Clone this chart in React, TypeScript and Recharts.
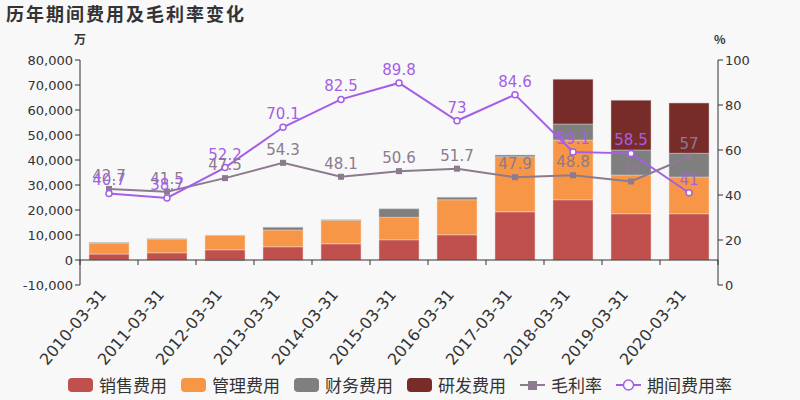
import React from 'react';
import { ComposedChart, Bar, Line, XAxis, YAxis, ReferenceLine, LabelList } from 'recharts';

const years = ['2010-03-31', '2011-03-31', '2012-03-31', '2013-03-31', '2014-03-31', '2015-03-31', '2016-03-31', '2017-03-31', '2018-03-31', '2019-03-31', '2020-03-31'];
const sales = [2400, 2900, 4100, 5300, 6500, 8100, 10100, 19300, 24100, 18500, 18500];
const admin = [4300, 5400, 5800, 6700, 9400, 9000, 14000, 22000, 23900, 15500, 14700];
const finance = [300, 200, -300, 1100, 200, 3400, 1000, 700, 6400, 10000, 9500];
const rnd = [0, 0, 0, 0, 0, 0, 0, 0, 17900, 19900, 20100];
const grossMargin = [42.7, 41.5, 47.5, 54.3, 48.1, 50.6, 51.7, 47.9, 48.8, 46, 57];
const expenseRate = [40.7, 38.7, 52.2, 70.1, 82.5, 89.8, 73, 84.6, 59.1, 58.5, 41];

const leftTicks = [-10000, 0, 10000, 20000, 30000, 40000, 50000, 60000, 70000, 80000];
const rightTicks = [0, 20, 40, 60, 80, 100];

const C_SALES = '#c0504d';
const C_ADMIN = '#f79646';
const C_FIN = '#7f7f7f';
const C_RND = '#772c2a';
const C_GM = '#8c7b8e';
const C_RATE = '#a55fe6';
const FONT = '"DejaVu Sans", "Noto Sans CJK SC", sans-serif';
const CJK = '"Noto Sans CJK SC", "Noto Sans", sans-serif';

const data = years.map((y, i) => ({
  year: y,
  sales: sales[i],
  admin: admin[i],
  finance: finance[i],
  rnd: rnd[i],
  gm: grossMargin[i],
  rate: expenseRate[i],
}));

// plot geometry (used only for the axis decoration)
const PLOT_LEFT = 80;
const PLOT_RIGHT = 718;
const PLOT_TOP = 60;
const PLOT_BOTTOM = 285;
const ZERO_Y = PLOT_TOP + (80000 / 90000) * (PLOT_BOTTOM - PLOT_TOP);
const BAND = (PLOT_RIGHT - PLOT_LEFT) / years.length;

const XTick = (props: any) => {
  const { x, payload, index } = props;
  const left = x - BAND / 2;
  const ty = PLOT_BOTTOM + 10;
  return (
    <g>
      <line x1={left} x2={left} y1={ZERO_Y} y2={ZERO_Y + 5} stroke="#333" />
      {index === years.length - 1 && (
        <line x1={left + BAND} x2={left + BAND} y1={ZERO_Y} y2={ZERO_Y + 5} stroke="#333" />
      )}
      <text
        x={x - 2}
        y={ty}
        transform={`rotate(-50, ${x - 2}, ${ty})`}
        textAnchor="end"
        fontSize={16}
        fill="#333"
        fontFamily={FONT}
      >
        {payload.value}
      </text>
    </g>
  );
};

const GmDot = (props: any) => {
  const { cx, cy } = props;
  return <rect x={cx - 3} y={cy - 3} width={6} height={6} fill={C_GM} />;
};

const RateDot = (props: any) => {
  const { cx, cy } = props;
  return <circle cx={cx} cy={cy} r={3} fill="#fff" stroke={C_RATE} strokeWidth={1.5} />;
};

const legendItems = [
  { name: '销售费用', color: C_SALES, kind: 'box' },
  { name: '管理费用', color: C_ADMIN, kind: 'box' },
  { name: '财务费用', color: C_FIN, kind: 'box' },
  { name: '研发费用', color: C_RND, kind: 'box' },
  { name: '毛利率', color: C_GM, kind: 'square' },
  { name: '期间费用率', color: C_RATE, kind: 'circle' },
];

const fmt = (v: number) => v.toLocaleString('en-US');

export default function App() {
  return (
    <div style={{ position: 'absolute', left: 0, top: 0, width: 800, height: 400, background: '#f8f8f8', fontFamily: CJK }}>
      <div style={{ position: 'absolute', left: 6, top: 0, fontSize: 18, fontWeight: 'bold', color: '#333', letterSpacing: 2 }}>
        历年期间费用及毛利率变化
      </div>
      <div style={{ position: 'absolute', left: 74, top: 30, fontSize: 12, fontWeight: 'bold', color: '#333' }}>万</div>
      <div style={{ position: 'absolute', left: 714, top: 30, fontSize: 12, fontWeight: 'bold', color: '#333' }}>%</div>
      <ComposedChart
        width={800}
        height={400}
        data={data}
        margin={{ top: PLOT_TOP, right: 32, left: 8, bottom: 30 }}
        stackOffset="sign"
        barCategoryGap={9}
        style={{ position: 'absolute', left: 0, top: 0 }}
      >
        <XAxis
          dataKey="year"
          height={85}
          axisLine={false}
          tickLine={false}
          interval={0}
          tick={<XTick />}
        />
        <YAxis
          yAxisId="left"
          width={72}
          domain={[-10000, 80000]}
          ticks={leftTicks}
          tickFormatter={fmt}
          allowDataOverflow
          stroke="#333"
          tick={{ fill: '#333', fontSize: 13, fontFamily: FONT }}
          tickSize={5}
        />
        <YAxis
          yAxisId="right"
          orientation="right"
          width={50}
          domain={[0, 100]}
          ticks={rightTicks}
          stroke="#333"
          tick={{ fill: '#333', fontSize: 13, fontFamily: FONT }}
          tickSize={5}
        />
        <Bar yAxisId="left" dataKey="sales" stackId="a" fill={C_SALES} stroke="#f0d0d0" strokeWidth={0.5} isAnimationActive={false} />
        <Bar yAxisId="left" dataKey="admin" stackId="a" fill={C_ADMIN} stroke="#f8d8c0" strokeWidth={0.5} isAnimationActive={false} />
        <Bar yAxisId="left" dataKey="finance" stackId="a" fill={C_FIN} stroke="#d0d0d0" strokeWidth={0.5} isAnimationActive={false} />
        <Bar yAxisId="left" dataKey="rnd" stackId="a" fill={C_RND} stroke="#d8c0c0" strokeWidth={0.5} isAnimationActive={false} />
        <ReferenceLine yAxisId="left" y={0} stroke="#333" strokeWidth={1} />
        <Line
          yAxisId="right"
          dataKey="gm"
          stroke={C_GM}
          strokeWidth={2}
          dot={<GmDot />}
          activeDot={false}
          isAnimationActive={false}
        >
          <LabelList dataKey="gm" position="top" offset={8} fill={C_GM} fontSize={15} fontFamily={FONT} />
        </Line>
        <Line
          yAxisId="right"
          dataKey="rate"
          stroke={C_RATE}
          strokeWidth={2}
          dot={<RateDot />}
          activeDot={false}
          isAnimationActive={false}
        >
          <LabelList dataKey="rate" position="top" offset={8} fill={C_RATE} fontSize={15} fontFamily={FONT} />
        </Line>
      </ComposedChart>
      <div style={{ position: 'absolute', left: 0, top: 372, width: 800, display: 'flex', justifyContent: 'center', gap: 14, fontSize: 17, color: '#333' }}>
        {legendItems.map((it) => (
          <div key={it.name} style={{ display: 'flex', alignItems: 'center', gap: 6 }}>
            {it.kind === 'box' && (
              <div style={{ width: 25, height: 14, borderRadius: 4, background: it.color }} />
            )}
            {it.kind === 'square' && (
              <svg width={25} height={14}>
                <line x1={0} x2={25} y1={7} y2={7} stroke={it.color} strokeWidth={2} />
                <rect x={8} y={3} width={9} height={9} fill={it.color} />
              </svg>
            )}
            {it.kind === 'circle' && (
              <svg width={25} height={14}>
                <line x1={0} x2={25} y1={7} y2={7} stroke={it.color} strokeWidth={2} />
                <circle cx={12.5} cy={7} r={5} fill="#fff" stroke={it.color} strokeWidth={1.5} />
              </svg>
            )}
            <span>{it.name}</span>
          </div>
        ))}
      </div>
    </div>
  );
}
